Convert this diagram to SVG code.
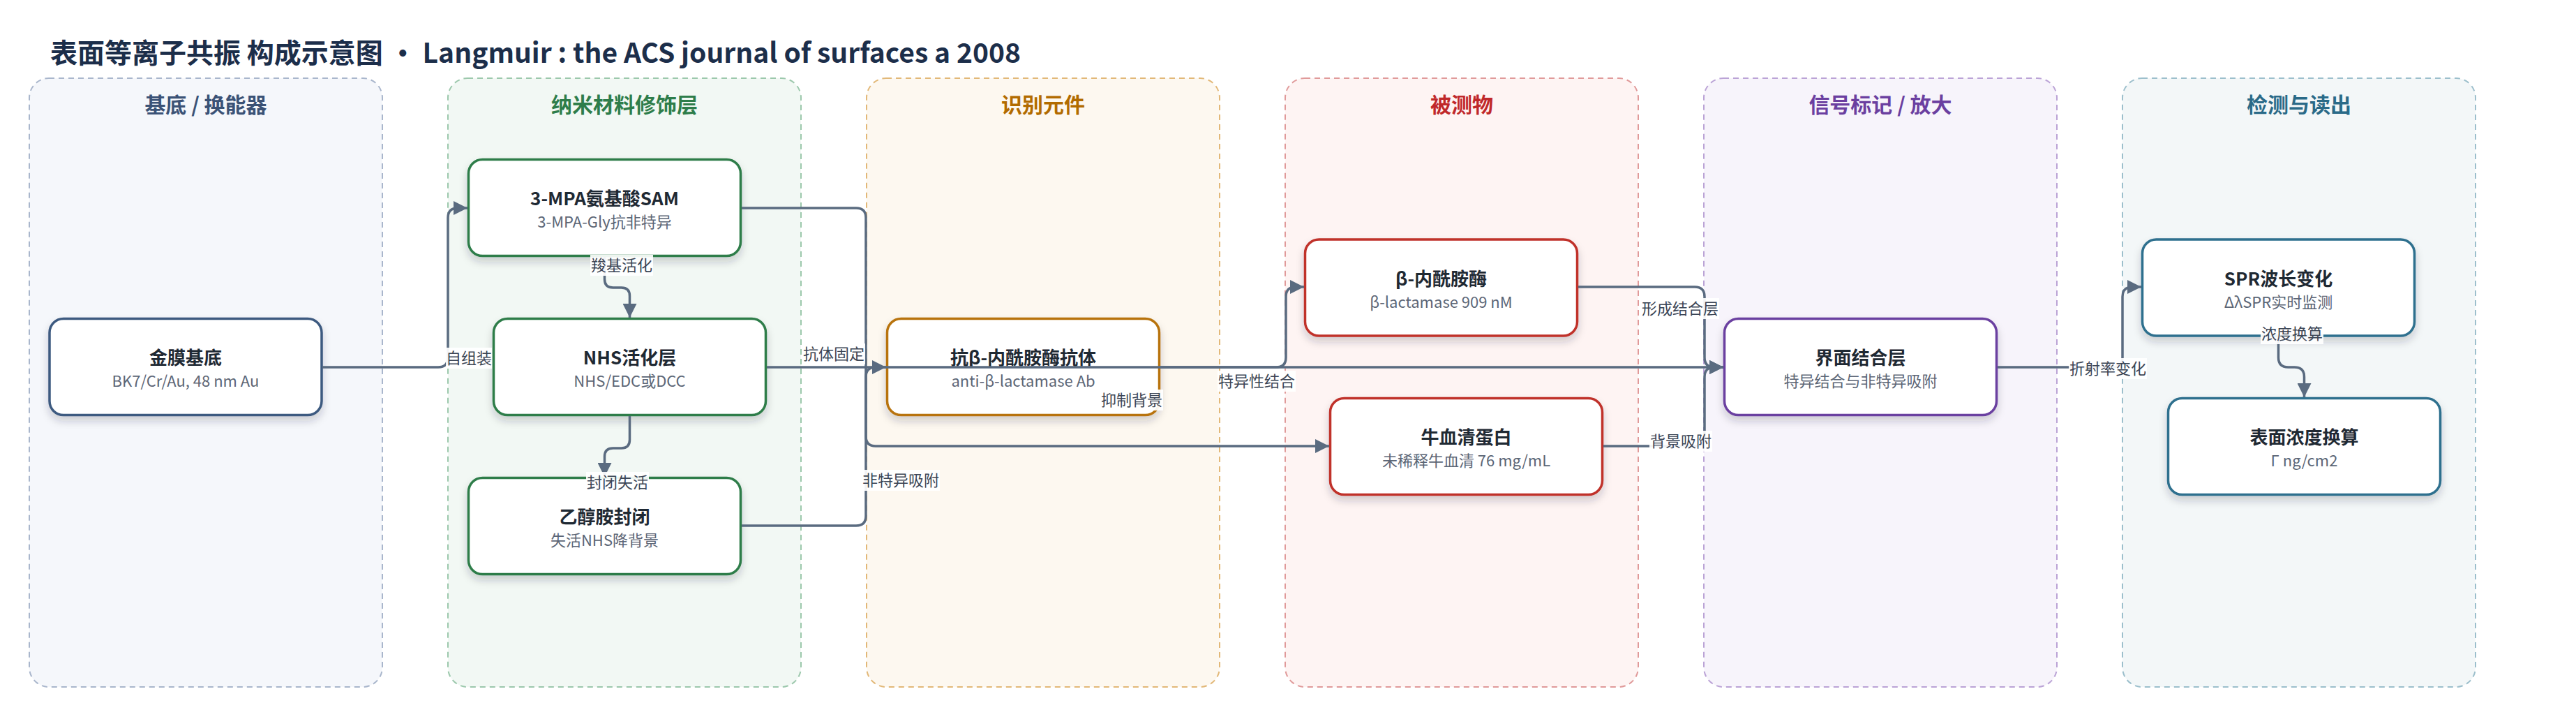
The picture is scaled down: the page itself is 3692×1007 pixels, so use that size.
<svg xmlns="http://www.w3.org/2000/svg" width="3692" height="1007" viewBox="0 0 3692 1007">
<style>
text{font-family:"Noto Sans CJK SC","Noto Sans",sans-serif}
.title{font-size:39px;font-weight:700;fill:#1c2e4a}
.lane{stroke-width:2;stroke-dasharray:8 6}
.lt{font-size:30px;font-weight:700;text-anchor:middle}
.node rect{fill:#fff;stroke-width:3.5;filter:url(#sh)}
.nt{font-size:26px;font-weight:700;fill:#1f2933;text-anchor:middle}
.ns{font-size:22px;fill:#5c6676;text-anchor:middle}
.edge{fill:none;stroke:#5a6b80;stroke-width:3.5;marker-end:url(#arr)}
.lb rect{fill:#fff;fill-opacity:.92}
.lb text{font-size:22px;fill:#3b4555;text-anchor:middle}
</style>
<defs>
<marker id="arr" viewBox="0 0 10 10" refX="10" refY="5" markerUnits="userSpaceOnUse" markerWidth="20" markerHeight="20" orient="auto">
<path d="M0,0 L10,5 L0,10 z" fill="#5a6b80"/>
</marker>
<filter id="sh" x="-10%" y="-20%" width="120%" height="150%">
<feDropShadow dx="0" dy="7" stdDeviation="6" flood-color="#1f2937" flood-opacity="0.2"/>
</filter>
</defs>
<rect width="3692" height="1007" fill="#fff"/>
<text class="title" x="72" y="90">表面等离子共振 构成示意图 · Langmuir : the ACS journal of surfaces a 2008</text>

<g id="lanes">
<g id="lane-substrate"><rect class="lane" x="42" y="112" width="506" height="872" rx="28" fill="#f5f7fb" stroke="#a9b6cc"/><text class="lt" x="295" y="161" fill="#3b5276">基底 / 换能器</text></g>
<g id="lane-nano"><rect class="lane" x="642" y="112" width="506" height="872" rx="28" fill="#f2f8f4" stroke="#9cc8ac"/><text class="lt" x="895" y="161" fill="#2e7d4a">纳米材料修饰层</text></g>
<g id="lane-recog"><rect class="lane" x="1242" y="112" width="506" height="872" rx="28" fill="#fdf8f0" stroke="#e2b878"/><text class="lt" x="1495" y="161" fill="#b26b00">识别元件</text></g>
<g id="lane-analyte"><rect class="lane" x="1842" y="112" width="506" height="872" rx="28" fill="#fef4f3" stroke="#e09a9a"/><text class="lt" x="2095" y="161" fill="#c0282a">被测物</text></g>
<g id="lane-signal"><rect class="lane" x="2442" y="112" width="506" height="872" rx="28" fill="#f7f4fb" stroke="#bba3d6"/><text class="lt" x="2695" y="161" fill="#6b3fa0">信号标记 / 放大</text></g>
<g id="lane-detect"><rect class="lane" x="3042" y="112" width="506" height="872" rx="28" fill="#f3f7f8" stroke="#9cbfcc"/><text class="lt" x="3295" y="161" fill="#2a6a88">检测与读出</text></g>
</g>

<g id="n1" class="node"><rect x="71" y="456.5" width="390" height="138" rx="20" stroke="#3d5a80"/><text class="nt" x="266" y="522">金膜基底</text><text class="ns" x="266" y="554">BK7/Cr/Au, 48 nm Au</text></g>
<g id="n2" class="node"><rect x="671.5" y="228.5" width="390" height="138" rx="20" stroke="#2e7d4a"/><text class="nt" x="866.5" y="294">3-MPA氨基酸SAM</text><text class="ns" x="866.5" y="326">3-MPA-Gly抗非特异</text></g>
<g id="n3" class="node"><rect x="707.5" y="456.5" width="390" height="138" rx="20" stroke="#2e7d4a"/><text class="nt" x="902.5" y="522">NHS活化层</text><text class="ns" x="902.5" y="554">NHS/EDC或DCC</text></g>
<g id="n4" class="node"><rect x="671.5" y="684.5" width="390" height="138" rx="20" stroke="#2e7d4a"/><text class="nt" x="866.5" y="750">乙醇胺封闭</text><text class="ns" x="866.5" y="782">失活NHS降背景</text></g>
<g id="n5" class="node"><rect x="1271.5" y="456.5" width="390" height="138" rx="20" stroke="#b8730a"/><text class="nt" x="1466.5" y="522">抗β-内酰胺酶抗体</text><text class="ns" x="1466.5" y="554">anti-β-lactamase Ab</text></g>
<g id="n6" class="node"><rect x="1870.5" y="343" width="390" height="138" rx="20" stroke="#c0302a"/><text class="nt" x="2065.5" y="408.5">β-内酰胺酶</text><text class="ns" x="2065.5" y="440.5">β-lactamase 909 nM</text></g>
<g id="n7" class="node"><rect x="1906.5" y="570.5" width="390" height="138" rx="20" stroke="#c0302a"/><text class="nt" x="2101.5" y="636">牛血清蛋白</text><text class="ns" x="2101.5" y="668">未稀释牛血清 76 mg/mL</text></g>
<g id="n8" class="node"><rect x="2471.5" y="456.5" width="390" height="138" rx="20" stroke="#6b3fa0"/><text class="nt" x="2666.5" y="522">界面结合层</text><text class="ns" x="2666.5" y="554">特异结合与非特异吸附</text></g>
<g id="n9" class="node"><rect x="3070.5" y="343" width="390" height="138" rx="20" stroke="#2e6f8e"/><text class="nt" x="3265.5" y="408.5">SPR波长变化</text><text class="ns" x="3265.5" y="440.5">ΔλSPR实时监测</text></g>
<g id="n10" class="node"><rect x="3107.5" y="570.5" width="390" height="138" rx="20" stroke="#2e6f8e"/><text class="nt" x="3302.5" y="636">表面浓度换算</text><text class="ns" x="3302.5" y="668">Γ ng/cm2</text></g>

<g id="connectors">
<path class="edge" d="M462,526 H628 Q642,526 642,512 V312 Q642,298 656,298 H670"/>
<path class="edge" d="M866.5,368 V400 Q866.5,412 878.5,412 H890.5 Q902.5,412 902.5,424 V455"/>
<path class="edge" d="M902.5,596 V630 Q902.5,642 890.5,642 H878.5 Q866.5,642 866.5,654 V683"/>
<path class="edge" d="M1099,526 H1270"/>
<path class="edge" d="M1063,298 H1227 Q1241,298 1241,312 V625 Q1241,639 1255,639 H1905"/>
<path class="edge" d="M1063,753 H1227 Q1241,753 1241,739 V540 Q1241,526 1255,526 H2470"/>
<path class="edge" d="M1663,526 H1829 Q1843,526 1843,512 V425 Q1843,411 1857,411 H1869"/>
<path class="edge" d="M2262,411 H2429 Q2443,411 2443,425 V512 Q2443,526 2457,526 H2470"/>
<path class="edge" d="M2298,639 H2429 Q2443,639 2443,625 V540 Q2443,526 2457,526 H2470"/>
<path class="edge" d="M2863,526 H3028 Q3042,526 3042,512 V425 Q3042,411 3056,411 H3069"/>
<path class="edge" d="M3265.5,482 V512 Q3265.5,526 3279.5,526 H3288.5 Q3302.5,526 3302.5,540 V569"/>
<g class="lb">
<rect x="639" y="498" width="66" height="30"/><text x="672" y="521">自组装</text>
<rect x="846" y="365" width="90" height="30"/><text x="891" y="388">羧基活化</text>
<rect x="840" y="676" width="90" height="30"/><text x="885" y="699">封闭失活</text>
<rect x="1150" y="492" width="90" height="30"/><text x="1195" y="515">抗体固定</text>
<rect x="1235" y="673" width="112" height="30"/><text x="1291" y="696">非特异吸附</text>
<rect x="1577" y="558" width="90" height="30"/><text x="1622" y="581">抑制背景</text>
<rect x="1745" y="531" width="112" height="30"/><text x="1801" y="554">特异性结合</text>
<rect x="2352" y="427" width="112" height="30"/><text x="2408" y="450">形成结合层</text>
<rect x="2364" y="617" width="90" height="30"/><text x="2409" y="640">背景吸附</text>
<rect x="2965" y="513" width="112" height="30"/><text x="3021" y="536">折射率变化</text>
<rect x="3240" y="463" width="90" height="30"/><text x="3285" y="486">浓度换算</text>
</g>
</g>
</svg>
